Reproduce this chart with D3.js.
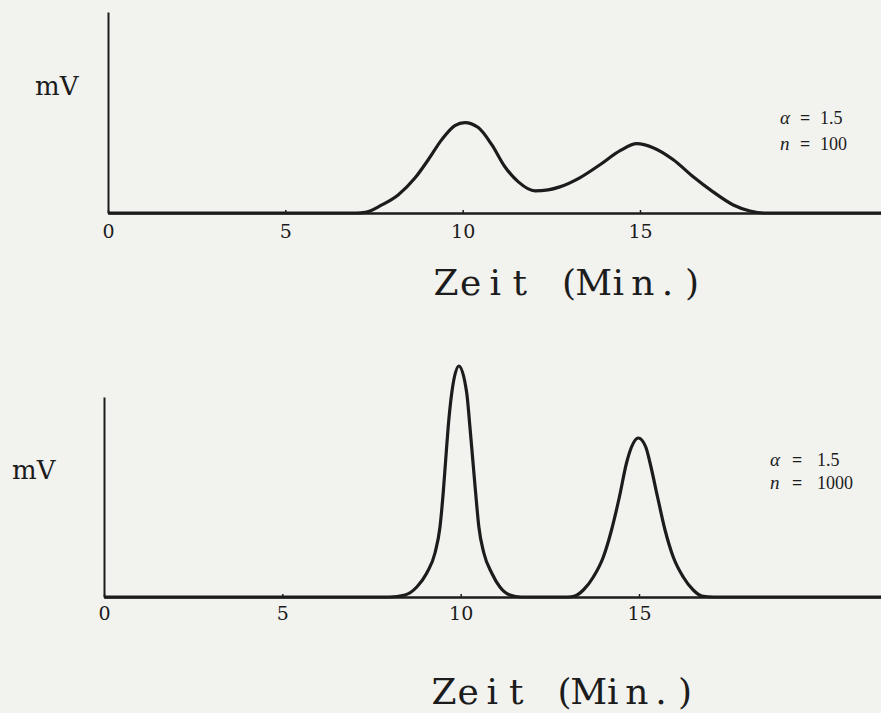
<!DOCTYPE html>
<html>
<head>
<meta charset="utf-8">
<script src="https://cdn.jsdelivr.net/npm/d3@7"></script>
<style>
  body { margin: 0; background: #f2f2ef; }
  svg { display: block; }
</style>
</head>
<body>
<script>
const W = 881, H = 713;

// trace, n = 100 (time in min, signal in arbitrary mV units)
const timeTop = [0, 7.0, 7.25, 7.72, 8.18, 8.66, 9.03, 9.41, 9.78, 10.06, 10.44, 10.82, 11.19, 11.57, 12.04, 12.41, 12.74, 13.30, 13.87, 14.44, 14.91, 15.37, 15.94, 16.50, 17.06, 17.63, 18.10, 18.5, 22];
const signalTop = [0, 0, 0.3, 4, 9, 17.5, 26.5, 36.5, 43.5, 45, 42.5, 34, 23, 15.5, 11, 11.5, 13, 17.5, 24, 31, 34.5, 32.5, 26.5, 18, 10.5, 4, 1, 0, 0];

// trace, n = 1000
const timeBottom = [0, 8.0, 8.44, 8.77, 9.05, 9.28, 9.42, 9.51, 9.58, 9.65, 9.75, 9.95, 10.17, 10.26, 10.34, 10.42, 10.51, 10.65, 10.87, 11.10, 11.38, 11.7, 13.0, 13.20, 13.44, 13.72, 14.00, 14.23, 14.45, 14.65, 14.79, 14.98, 15.19, 15.31, 15.52, 15.73, 15.96, 16.24, 16.52, 16.76, 17.1, 22];
const signalBottom = [0, 0, 1, 5, 12, 22, 35, 52, 68.5, 85, 102, 115.5, 102, 85, 68.5, 52, 35, 22, 12, 5, 1, 0, 0, 0.5, 3.5, 10, 20, 33.5, 50, 67, 75, 79.5, 75, 67, 50, 33.5, 20, 10, 3.5, 0.5, 0, 0];

const xTicks = [0, 5, 10, 15];
const alphaValues = ['1.5', '1.5'];
const nValues = ['100', '1000'];
const yLabel = 'mV';
const xLabel = 'Zeit (Min.)';

// layout of the two panels (pixels)
const panels = [
    { time: timeTop, signal: signalTop, x0: 108, x15: 640, base: 213, top: 12, pad: 12,
      mv: [35, 95], zeit: { x: 446, step: 24.6, y: 295 },
      legend: { sym: 780, eq: 800, val: 820, rows: [124, 150] } },
    { time: timeBottom, signal: signalBottom, x0: 104, x15: 639, base: 597, top: 397, pad: 10,
      mv: [12, 479], zeit: { x: 444, step: 24.1, y: 704 },
      legend: { sym: 770, eq: 792, val: 817, rows: [466, 489] } }
];

const ink = '#1c1c1c';

const svg = d3.select('body').append('svg')
    .attr('width', W)
    .attr('height', H);

svg.append('rect')
    .attr('width', W).attr('height', H)
    .attr('fill', '#f2f2ef');

panels.forEach((p, i) => {
    const g = svg.append('g');

    // x scale: fixed by the 0 and 15 min ticks, runs on to the right edge
    const x = d3.scaleLinear().domain([0, 15]).range([p.x0, p.x15]);
    x.domain([0, x.invert(W)]).range([p.x0, W]);

    const y = d3.scaleLinear().domain([0, 100]).range([p.base, p.top]);

    // x axis
    const xAxis = d3.axisBottom(x)
        .tickValues(xTicks)
        .tickFormat(d3.format('d'))
        .tickSizeInner(-3)
        .tickSizeOuter(0)
        .tickPadding(p.pad);

    const xg = g.append('g')
        .attr('transform', `translate(0,${p.base})`)
        .call(xAxis);
    xg.select('.domain').attr('stroke', ink).attr('stroke-width', 2.4);
    xg.selectAll('.tick line').attr('stroke', ink).attr('stroke-width', 1.5);
    xg.selectAll('.tick text')
        .attr('fill', ink)
        .style('font-family', '"DejaVu Serif", serif')
        .style('font-size', '19px');

    // y axis: bare line, no ticks
    const yAxis = d3.axisLeft(y).tickValues([]).tickSizeOuter(0);
    const yg = g.append('g')
        .attr('transform', `translate(${x(0)},0)`)
        .call(yAxis);
    yg.select('.domain').attr('stroke', ink).attr('stroke-width', 2);

    // chromatogram trace
    const pts = p.time.map((t, j) => [t, p.signal[j]]);
    const line = d3.line()
        .x(d => x(d[0]))
        .y(d => y(d[1]))
        .curve(d3.curveMonotoneX);

    g.append('path')
        .datum(pts)
        .attr('d', line)
        .attr('fill', 'none')
        .attr('stroke', ink)
        .attr('stroke-width', 3.2)
        .attr('stroke-linejoin', 'round');

    // y label
    g.append('text')
        .attr('x', p.mv[0])
        .attr('y', p.mv[1])
        .attr('fill', ink)
        .style('font-family', '"DejaVu Serif", serif')
        .style('font-size', '26px')
        .text(yLabel);

    // x label, typewriter spacing
    const chars = xLabel.split('');
    g.append('text')
        .attr('x', chars.map((c, k) => p.zeit.x + k * p.zeit.step).join(' '))
        .attr('y', p.zeit.y)
        .attr('text-anchor', 'middle')
        .attr('fill', ink)
        .style('font-family', '"DejaVu Serif", serif')
        .style('font-size', '36px')
        .style('white-space', 'pre')
        .text(xLabel);

    // parameter labels
    const rows = [['α', alphaValues[i]], ['n', nValues[i]]];
    rows.forEach(([sym, val], r) => {
        const ly = p.legend.rows[r];
        g.append('text')
            .attr('x', p.legend.sym).attr('y', ly)
            .attr('fill', ink)
            .style('font-family', '"Liberation Serif", serif')
            .style('font-style', 'italic')
            .style('font-size', '19px')
            .text(sym);
        g.append('text')
            .attr('x', p.legend.eq).attr('y', ly)
            .attr('fill', ink)
            .style('font-family', '"Liberation Serif", serif')
            .style('font-weight', 'bold')
            .style('font-size', '18px')
            .text('=');
        g.append('text')
            .attr('x', p.legend.val).attr('y', ly)
            .attr('fill', ink)
            .style('font-family', '"Liberation Serif", serif')
            .style('font-size', '18px')
            .text(val);
    });
});
</script>
</body>
</html>
